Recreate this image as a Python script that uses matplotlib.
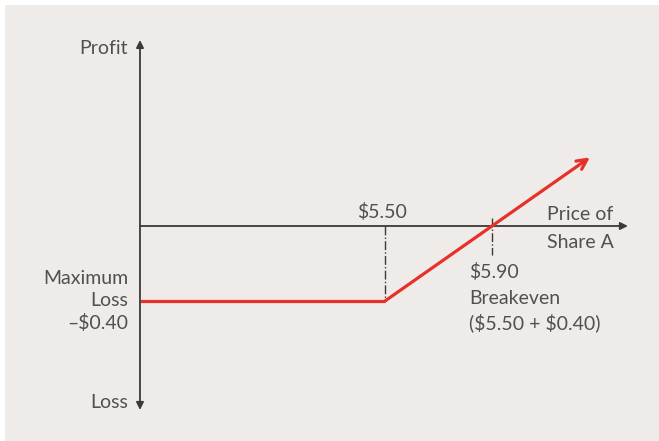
import matplotlib.pyplot as plt
from matplotlib.patches import Rectangle

plt.rcParams["text.parse_math"] = False
plt.rcParams["font.family"] = ["Lato", "DejaVu Sans"]

# payoff of a long call: strike 5.50, premium 0.40
strike = 5.50
premium = 0.40
breakeven = strike + premium
price_pts = [4.584, 5.50, 6.266]
profit_pts = [max(p - strike, 0) - premium for p in price_pts]

axis_color = "#3a3a3a"
text_color = "#505050"
red = "#e8302a"
bg = "#efebe8"
fs = 14

fig = plt.figure(figsize=(6.59, 4.41), dpi=100)
ax = fig.add_axes([0, 0, 1, 1])
ax.set_xlim(4.0607, 6.5243)
ax.set_ylim(-1.1467, 1.2053)
ax.axis("off")

# background panel (small white margin top/left)
fig.patches.append(Rectangle((5 / 659, 0), 1, 1 - 5 / 441, transform=fig.transFigure,
                             facecolor=bg, edgecolor="none", zorder=-1))

x0 = price_pts[0]
# axes with arrows
arrow_kw = dict(arrowstyle="-|>", color=axis_color, lw=1.3,
                mutation_scale=11, shrinkA=0, shrinkB=0)
ax.annotate("", xy=(x0, 0.992), xytext=(x0, 0), arrowprops=arrow_kw)
ax.annotate("", xy=(x0, -0.981), xytext=(x0, 0), arrowprops=arrow_kw)
ax.annotate("", xy=(6.408, 0), xytext=(x0, 0), arrowprops=arrow_kw)

# dash-dot guides
ax.plot([strike, strike], [0, -premium], color=axis_color, lw=1, ls="-.")
ax.plot([breakeven, breakeven], [0.045, -0.155], color=axis_color, lw=1, ls="-.")

# payoff line
ax.plot(price_pts[:2], profit_pts[:2], color=red, lw=2.3, solid_capstyle="butt")
ax.annotate("", xy=(price_pts[2], profit_pts[2]), xytext=(price_pts[1], profit_pts[1]),
            arrowprops=dict(arrowstyle="->", color=red, lw=2.3,
                            mutation_scale=18, shrinkA=0, shrinkB=0))

def px(x, y):
    # pixel position -> data position
    return 4.0607 + x / 267.5, 1.2053 - y / 187.5

kw = dict(color=text_color, fontsize=fs, va="center")
ax.text(*px(128, 48), "Profit", ha="right", **kw)
ax.text(*px(128, 403), "Loss", ha="right", **kw)
ax.text(*px(128, 278), "Maximum", ha="right", **kw)
ax.text(*px(128, 301), "Loss", ha="right", **kw)
ax.text(*px(128, 323), "\u2013$0.40", ha="right", **kw)
ax.text(*px(382, 212), "$5.50", ha="center", **kw)
ax.text(*px(547, 214), "Price of", ha="left", **kw)
ax.text(*px(547, 242), "Share A", ha="left", **kw)
ax.text(*px(469, 272), "$5.90", ha="left", **kw)
ax.text(*px(469, 298), "Breakeven", ha="left", **kw)
ax.text(*px(469, 323), "($5.50 + $0.40)", ha="left", **kw)

fig.savefig("out.png", dpi=100, facecolor="white")
